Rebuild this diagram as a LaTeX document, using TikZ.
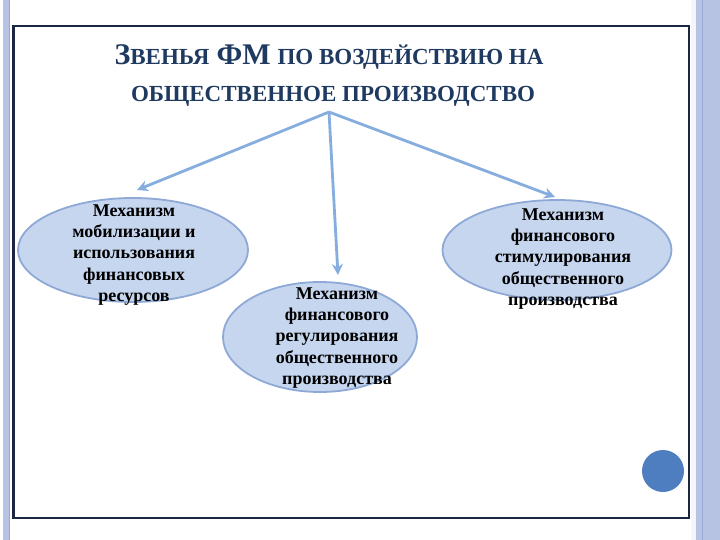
\documentclass[tikz,border=0pt]{standalone}
\usepackage{fontspec}
\setmainfont{Liberation Serif}
\usetikzlibrary{shapes.geometric,arrows.meta}
\definecolor{navy}{HTML}{1F3A60}
\definecolor{framec}{HTML}{1C2640}
\definecolor{ellfill}{HTML}{C6D6EE}
\definecolor{elldraw}{HTML}{8EA9D6}
\definecolor{arrowc}{HTML}{85AEDF}
\definecolor{stripe}{HTML}{B7C3E3}
\definecolor{stripedark}{HTML}{98A9D6}
\definecolor{dotc}{HTML}{4F7EC0}
\tikzset{
  mech/.style={ellipse, draw=elldraw, line width=1.8pt, fill=ellfill, inner sep=0pt},
  mtext/.style={inner sep=0pt, align=center, font=\bfseries\fontsize{18}{21.3}\selectfont, text=black},
  link/.style={draw=arrowc, line width=2.8pt, -{Stealth[length=11pt,width=11pt]}},
  ttl/.style={text=navy, font=\bfseries, anchor=base, inner sep=0pt}
}
\newcommand{\bigc}[1]{{\fontsize{30}{30}\selectfont #1}}
\newcommand{\smc}[1]{{\fontsize{23}{23}\selectfont #1}}
\begin{document}
\begin{tikzpicture}[x=1pt,y=-1pt]
\useasboundingbox (0,0) rectangle (720,540);
\fill[white] (0,0) rectangle (720,540);
% side stripes
\fill[stripe] (3,0) rectangle (9,540);
\draw[stripedark, line width=0.6pt] (9,0) -- (9,540);
\fill[stripe] (696,0) rectangle (720,540);
\draw[stripedark, line width=1pt] (702,0) -- (702,540);
\fill[white!85!stripe] (691,0) rectangle (696,540);
% frame
\draw[framec, line width=2.6pt] (13.5,26) rectangle (689,518);
% title
\node[ttl] (title1) at (329,65) {\bigc{З}\smc{ВЕНЬЯ}\hspace{7pt}\bigc{ФМ}\hspace{7pt}\smc{ПО ВОЗДЕЙСТВИЮ НА}};
\node[ttl] (title2) at (333,102) {\smc{ОБЩЕСТВЕННОЕ ПРОИЗВОДСТВО}};
% ellipses
\node[mech, minimum width=230pt, minimum height=104pt] (L) at (133,250) {};
\node[mech, minimum width=194pt, minimum height=110pt] (M) at (320,337) {};
\node[mech, minimum width=229pt, minimum height=100pt] (R) at (557,250) {};
% texts
\node[mtext] (Lt) at (134,255) {Механизм\\мобилизации и\\использования\\финансовых\\ресурсов};
\node[mtext] (Mt) at (337,338) {Механизм\\финансового\\регулирования\\общественного\\производства};
\node[mtext] (Rt) at (563,259) {Механизм\\финансового\\стимулирования\\общественного\\производства};
% connectors
\coordinate (root) at (329,112);
\coordinate (tL) at (137,190);
\coordinate (tM) at (338,275);
\coordinate (tR) at (555,197);
\draw[link] (root) -- (tL);
\draw[link] (root) -- (tM);
\draw[link] (root) -- (tR);
% dot
\fill[dotc] (663,471) circle (21);
\end{tikzpicture}
\end{document}
